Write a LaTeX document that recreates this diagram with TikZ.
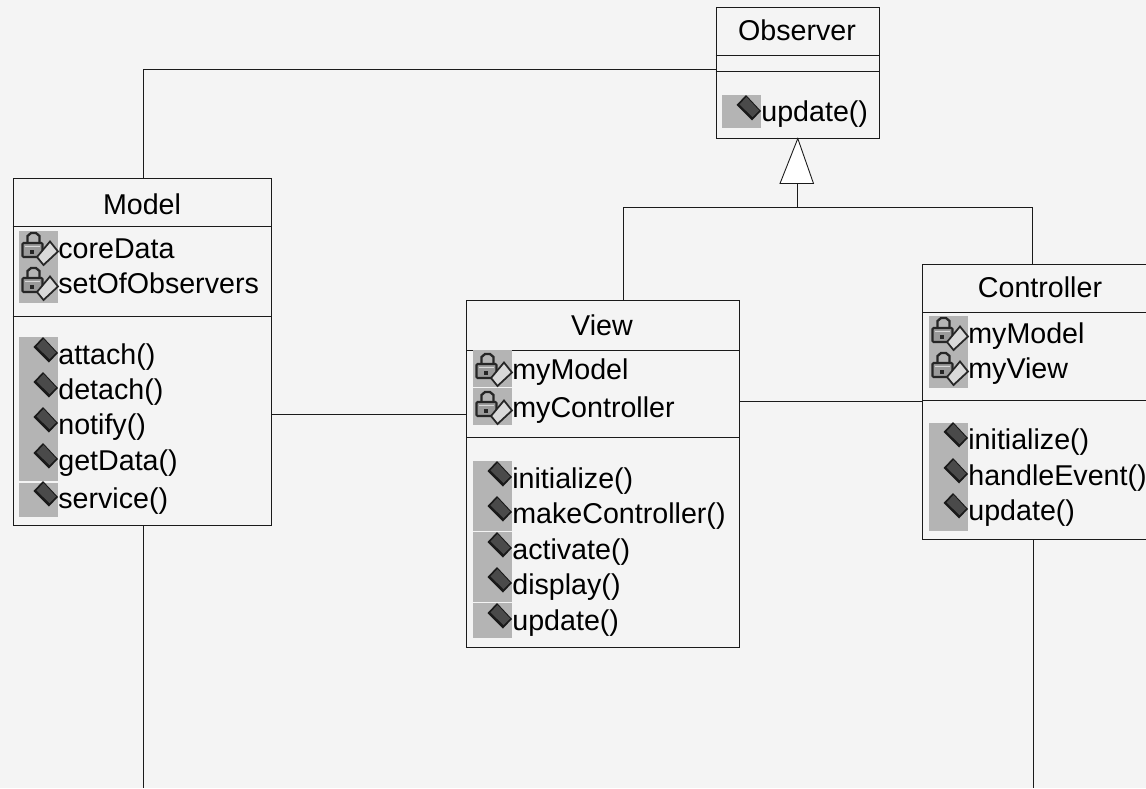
\documentclass[tikz,border=0pt]{standalone}
\usepackage{fontspec}
\setmainfont{Liberation Sans}
\definecolor{pagebg}{HTML}{F4F4F4}
\definecolor{iconbg}{HTML}{B4B4B4}
\definecolor{iconfill}{HTML}{4A4A4A}
\definecolor{lockfill}{HTML}{9A9A9A}
\definecolor{linecol}{HTML}{1A1A1A}
\newcommand{\unit}{0.02cm}
\tikzset{
    classbox/.style={draw=linecol, line width=0.6pt, anchor=north west, inner sep=0pt},
    title/.style={anchor=base, inner sep=0pt, yshift=-0.5*\unit, font=\fontsize{16.3}{19}\selectfont},
    member/.style={anchor=base west, inner sep=0pt, yshift=-1*\unit, font=\fontsize{16.3}{19}\selectfont},
    divider/.style={draw=linecol, line width=0.55pt},
    connector/.style={draw=linecol, line width=0.5pt},
    publicicon/.pic={
        \fill[black!90] (14.5,10) -- (24,0) -- (39,16) -- (30,25.5) -- cycle;
        \fill[iconfill] (17.5,9.5) -- (24.5,2) -- (37,15.5) -- (30.5,22) -- cycle;
    },
    privateicon/.pic={
        \draw[black!85, line width=1.3pt] (8.5,12) -- (8.5,5) -- (12,2) -- (17,2) -- (20.5,5) -- (20.5,12);
        \fill[lockfill, draw=black!85, line width=1.2pt, rounded corners=1*\unit] (3.5,12) rectangle (23.5,26);
        \draw[white!85!black, line width=0.7pt] (6,15.5) -- (21,15.5);
        \fill[black!85] (11,18.5) rectangle (15,22.5);
        \fill[white!85!black, draw=black!85, line width=1pt] (18,26) -- (31,10.5) -- (39,20.5) -- (24.5,34) -- cycle;
    },
}
\begin{document}
\begin{tikzpicture}[x=\unit, y=-\unit]
    \useasboundingbox[fill=pagebg] (0,0) rectangle (1146,788);

    % Boxes
    \node[classbox, minimum width=163.5*\unit, minimum height=130.5*\unit] (observer) at (715.5,7) {};
    \node[classbox, minimum width=258.5*\unit, minimum height=347*\unit] (model) at (12.5,178) {};
    \node[classbox, minimum width=273*\unit, minimum height=347*\unit] (view) at (466,300) {};
    \node[classbox, minimum width=236*\unit, minimum height=275*\unit] (controller) at (922,264) {};

    % Connectors
    \coordinate (modelout) at (143,788);
    \coordinate (controllerout) at (1033.5,788);
    \coordinate (split) at (797.25,207);
    \coordinate (viewturn) at (623,207);
    \coordinate (controllerturn) at (1032,207);
    \coordinate (triangleleft) at (780,183.5);
    \coordinate (triangleright) at (813.5,183.5);
    \coordinate (trianglebase) at (797.25,183.5);
    \draw[connector] (observer.west |- 0,69) -| (modelout |- model.north);
    \draw[connector] (model.east |- 0,414) -- (view.west |- 0,414);
    \draw[connector] (view.east |- 0,401.5) -- (controller.west |- 0,401.5);
    \draw[connector] (modelout |- model.south) -- (modelout);
    \draw[connector] (controllerout |- controller.south) -- (controllerout);
    \draw[connector] (trianglebase) -- (split);
    \draw[connector] (viewturn) -- (controllerturn);
    \draw[connector] (viewturn) -- (viewturn |- view.north);
    \draw[connector] (controllerturn) -- (controllerturn |- controller.north);
    \draw[connector, fill=white] (observer.south) -- (triangleleft) -- (triangleright) -- cycle;

    % Observer
    \node[title] (observertitle) at (797,40) {Observer};
    \draw[divider] (observer.west |- 0,55) -- (observer.east |- 0,55);
    \draw[divider] (observer.west |- 0,71) -- (observer.east |- 0,71);
    \fill[iconbg] (722,95) rectangle (761,128);
    \pic at (722,95) {publicicon};
    \node[member] (observerop) at (761,120) {update()};

    % Model
    \node[title] (modeltitle) at (142,214) {Model};
    \draw[divider] (model.west |- 0,226) -- (model.east |- 0,226);
    \draw[divider] (model.west |- 0,316) -- (model.east |- 0,316);
    \fill[iconbg] (19,231) rectangle (58,302.5);
    \fill[iconbg] (19,337) rectangle (58,481);
    \fill[iconbg] (19,482.5) rectangle (58,517);
    \foreach \y/\val in {
        257/coreData,
        292/setOfObservers
        } {
        \pic at (19,\y-26) {privateicon};
        \node[member] (model-\y) at (58,\y) {\val};
    }
    \foreach \y/\val in {
        363/attach(),
        398/detach(),
        433/notify(),
        469/getData(),
        507/service()
        } {
        \pic at (19,\y-26) {publicicon};
        \node[member] (model-\y) at (58,\y) {\val};
    }

    % View
    \node[title] (viewtitle) at (602,335) {View};
    \draw[divider] (view.west |- 0,350) -- (view.east |- 0,350);
    \draw[divider] (view.west |- 0,437) -- (view.east |- 0,437);
    \foreach \y/\val in {
        378/myModel,
        416/myController
        } {
        \fill[iconbg] (473,\y-28) rectangle (512,\y+9);
        \pic at (473,\y-26) {privateicon};
        \node[member] (view-\y) at (512,\y) {\val};
    }
    \foreach \y/\val in {
        487/initialize(),
        522/makeController(),
        558/activate(),
        593/display(),
        629/update()
        } {
        \fill[iconbg] (473,\y-26) rectangle (512,\y+8.5);
        \pic at (473,\y-26) {publicicon};
        \node[member] (view-\y) at (512,\y) {\val};
    }

    % Controller
    \node[title] (controllertitle) at (1040,297) {Controller};
    \draw[divider] (controller.west |- 0,312) -- (1146,312);
    \draw[divider] (controller.west |- 0,400) -- (1146,400);
    \fill[iconbg] (929,316) rectangle (968,388);
    \fill[iconbg] (929,423) rectangle (968,531);
    \foreach \y/\val in {
        342/myModel,
        377/myView
        } {
        \pic at (929,\y-26) {privateicon};
        \node[member] (controller-\y) at (968,\y) {\val};
    }
    \foreach \y/\val in {
        448/initialize(),
        484/handleEvent(),
        519/update()
        } {
        \pic at (929,\y-26) {publicicon};
        \node[member] (controller-\y) at (968,\y) {\val};
    }
\end{tikzpicture}
\end{document}
